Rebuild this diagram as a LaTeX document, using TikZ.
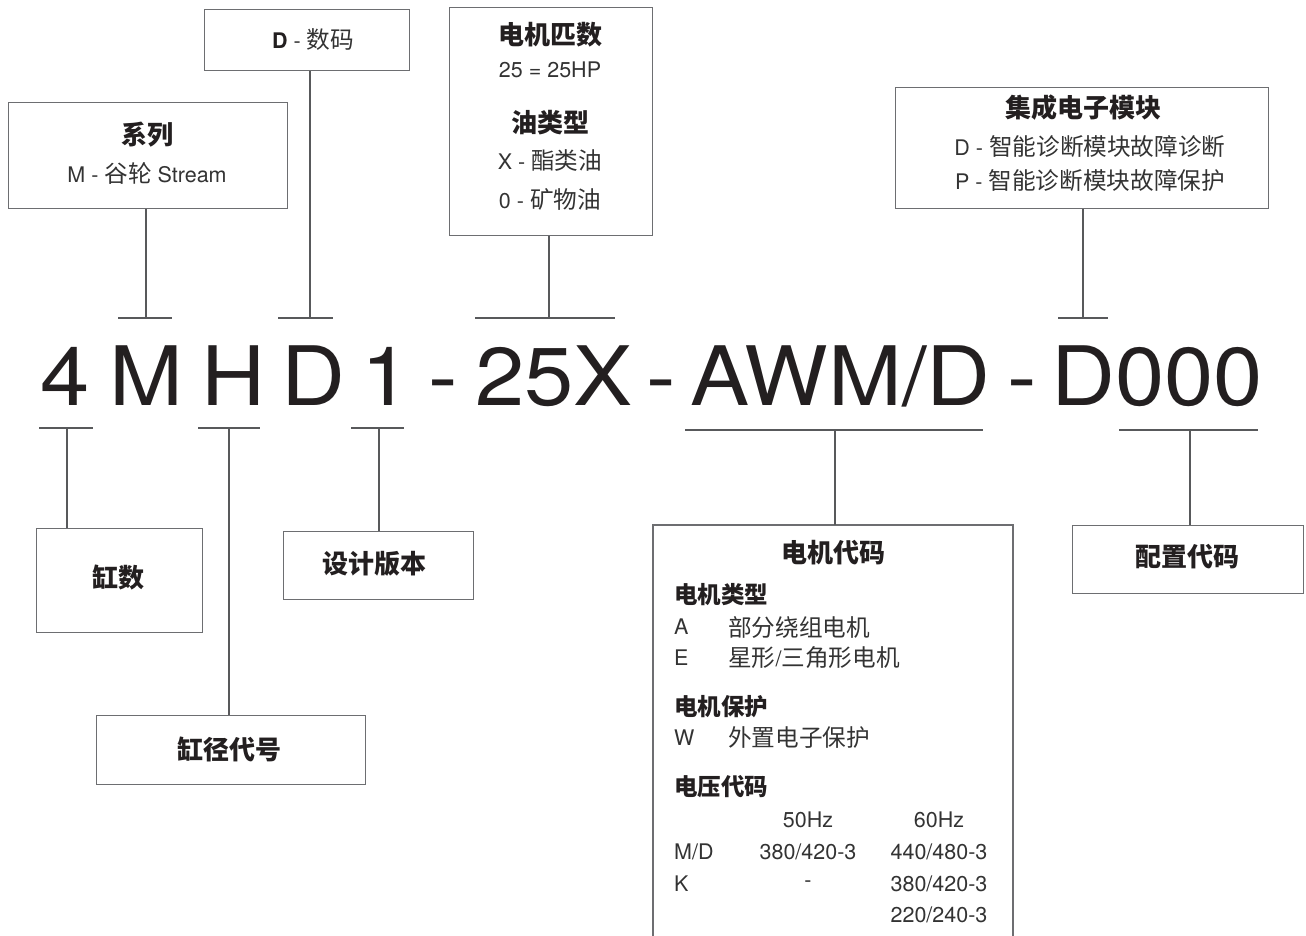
\documentclass[tikz,border=0pt]{standalone}
\usepackage{fontspec}
\setmainfont{TeX Gyre Heros}
\newfontfamily\bigfont{TeX Gyre Heros}[FakeStretch=1.08]
\newfontfamily\cjk{Noto Sans CJK SC}[Scale=1.1]
\newfontfamily\cjkt{Noto Sans CJK SC}
\newcommand\zh[1]{{\cjk #1}}
\usetikzlibrary{calc}
\definecolor{ink}{HTML}{231F20}
\definecolor{txt}{HTML}{333333}
\definecolor{boxgray}{HTML}{6D6E71}
\definecolor{linegray}{HTML}{58595B}
\tikzset{
  box/.style={draw=boxgray, line width=1.3pt, anchor=north west, inner sep=0pt},
  conn/.style={draw=linegray, line width=1.2pt},
  ttl/.style={font=\cjkt\bfseries\fontsize{26}{30}\selectfont, text=ink, inner sep=0pt},
  sub/.style={font=\cjkt\bfseries\fontsize{23.5}{27}\selectfont, text=ink, inner sep=0pt, anchor=west},
  body/.style={font=\fontsize{21.5}{26}\selectfont, text=txt, inner sep=0pt},
  big/.style={font=\bigfont\fontsize{82}{90}\selectfont, text=ink, inner sep=0pt, anchor=base west},
}
\begin{document}
\begin{tikzpicture}[x=1pt,y=-1pt]
\useasboundingbox (0,0) rectangle (1306,935);

% ---------- upper boxes ----------
\node[box, minimum width=279pt, minimum height=106pt] (ser) at (8,102) {};
\node[ttl] (serT) at (147,135) {系列};
\node[body] (serB) at (147,173) {M - \zh{谷轮} Stream};

\node[box, minimum width=205pt, minimum height=61pt] (dig) at (204,9) {};
\node[body] (digT) at (313,40) {\textcolor{ink}{\bfseries D} - \zh{数码}};

\node[box, minimum width=203pt, minimum height=228pt] (hp) at (449,7) {};
\node[ttl] (hpT) at (550,35) {电机匹数};
\node[body] (hpB) at (550,70) {25 = 25HP};
\node[ttl] (oilT) at (550,123) {油类型};
\node[body] (oilX) at (550,161) {X - \zh{酯类油}};
\node[body] (oil0) at (550,199) {0 - \zh{矿物油}};

\node[box, minimum width=373pt, minimum height=121pt] (iem) at (895,87) {};
\node[ttl] (iemT) at (1083,108) {集成电子模块};
\node[body] (iemD) at (1090,147) {D - \zh{智能诊断模块故障诊断}};
\node[body] (iemP) at (1090,181) {P - \zh{智能诊断模块故障保护}};

% ---------- model code ----------
\node[big] (c4) at (40,405) {4};
\node[big] (cM) at (109,405) {M};
\node[big] (cH) at (201,405) {H};
\node[big] (cD) at (281,405) {D};
\node[big] (c1) at (361,405) {1};
\node[big] (d1) at (428,405) {-};
\node[big] (c25) at (475,405) {25X};
\node[big] (d2) at (646,405) {-};
\node[big] (cAWM) at (690,405) {AWM/D};
\node[big] (d3) at (1007,405) {-};
\node[big] (cD0) at (1051,405) {D000};

% ---------- tick coordinates ----------
\coordinate (tSer) at (146,318);
\coordinate (tDig) at (310,318);
\coordinate (tHp) at (549,318);
\coordinate (tIem) at (1083,318);
\coordinate (t4) at (67,428);
\coordinate (tH) at (229,428);
\coordinate (t1) at (379,428);
\coordinate (tAWM) at (835,430);
\coordinate (tD0) at (1190,430);

\draw[conn] ($(tSer)+(-28,0)$) -- ($(tSer)+(26,0)$);
\draw[conn] ($(tDig)+(-32,0)$) -- ($(tDig)+(23,0)$);
\draw[conn] ($(tHp)+(-74,0)$) -- ($(tHp)+(66,0)$);
\draw[conn] ($(tIem)+(-25,0)$) -- ($(tIem)+(25,0)$);
\draw[conn] ($(t4)+(-28,0)$) -- ($(t4)+(26,0)$);
\draw[conn] ($(tH)+(-31,0)$) -- ($(tH)+(31,0)$);
\draw[conn] ($(t1)+(-28,0)$) -- ($(t1)+(25,0)$);
\draw[conn] ($(tAWM)+(-150,0)$) -- ($(tAWM)+(148,0)$);
\draw[conn] ($(tD0)+(-71,0)$) -- ($(tD0)+(68,0)$);

% ---------- lower boxes ----------
\node[box, minimum width=166pt, minimum height=104pt] (cyl) at (36,528) {};
\node[ttl] (cylT) at (118,578) {缸数};

\node[box, minimum width=269pt, minimum height=69pt] (bore) at (96,715) {};
\node[ttl] (boreT) at (229,749) {缸径代号};

\node[box, minimum width=190pt, minimum height=68pt] (ver) at (283,531) {};
\node[ttl] (verT) at (374,564) {设计版本};

\node[box, minimum width=231pt, minimum height=68pt] (cfg) at (1072,525) {};
\node[ttl] (cfgT) at (1187,557) {配置代码};

% motor code box (open at the bottom)
\coordinate (motTL) at (653,525);
\coordinate (motTR) at (1013,525);
\coordinate (motTop) at (835,525);
\draw[draw=boxgray, line width=1.3pt] (653,936) -- (motTL) -- (motTR) -- (1013,936);
\node[ttl] (motT) at (833,553) {电机代码};
\node[sub] (mtype) at (674,595) {电机类型};
\node[body, anchor=west] (mA) at (674,627) {A};
\node[body, anchor=west] (mAt) at (728,627) {\zh{部分绕组电机}};
\node[body, anchor=west] (mE) at (674,658) {E};
\node[body, anchor=west] (mEt) at (728,658) {\zh{星形}/\zh{三角形电机}};
\node[sub] (mprot) at (674,707) {电机保护};
\node[body, anchor=west] (mW) at (674,738) {W};
\node[body, anchor=west] (mWt) at (728,738) {\zh{外置电子保护}};
\node[sub] (mvolt) at (674,787) {电压代码};
\node[body] (h50) at (808,820) {50Hz};
\node[body] (h60) at (939,820) {60Hz};
\node[body, anchor=west] (rMD) at (674,852) {M/D};
\node[body] (rMD5) at (808,852) {380/420-3};
\node[body] (rMD6) at (939,852) {440/480-3};
\node[body, anchor=west] (rK) at (674,884) {K};
\node[body] (rK5) at (808,884) {-};
\node[body] (rK6) at (939,884) {380/420-3};
\node[body] (rX6) at (939,915) {220/240-3};

% ---------- connectors ----------
\draw[conn] (ser.south -| tSer) -- (tSer);
\draw[conn] (dig.south -| tDig) -- (tDig);
\draw[conn] (hp.south -| tHp) -- (tHp);
\draw[conn] (iem.south -| tIem) -- (tIem);
\draw[conn] (t4) -- (t4 |- cyl.north);
\draw[conn] (tH) -- (tH |- bore.north);
\draw[conn] (t1) -- (t1 |- ver.north);
\draw[conn] (tAWM) -- (motTop);
\draw[conn] (tD0) -- (tD0 |- cfg.north);
\end{tikzpicture}
\end{document}
